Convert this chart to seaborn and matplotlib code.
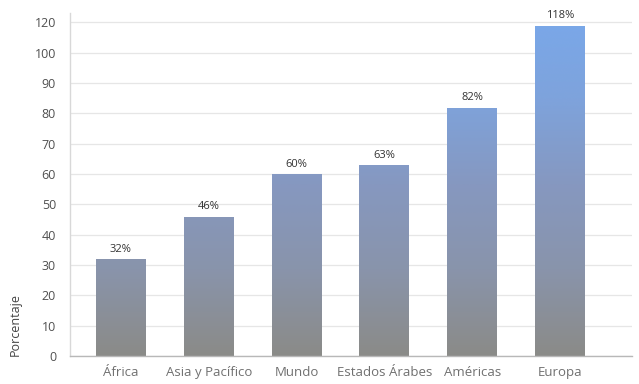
import numpy as np
import pandas as pd
import matplotlib
matplotlib.use("Agg")
import matplotlib.pyplot as plt
from matplotlib.colors import LinearSegmentedColormap
import seaborn as sns

# Data
regions = ["África", "Asia y Pacífico", "Mundo", "Estados Árabes", "Américas", "Europa"]
percent = [32, 46, 60, 63, 82, 118]
y_ticks = [0, 10, 20, 30, 40, 50, 60, 70, 80, 90, 100, 120]

df = pd.DataFrame({"region": regions, "pct": percent})

sns.set_theme(style="white")
plt.rcParams["font.family"] = ["Open Sans", "DejaVu Sans"]


# Axis above 100 is compressed by half
def fwd(v):
    v = np.asarray(v, dtype=float)
    return np.where(v <= 100, v, 100 + (v - 100) / 2.0)


def inv(v):
    v = np.asarray(v, dtype=float)
    return np.where(v <= 100, v, 100 + (v - 100) * 2.0)


fig = plt.figure(figsize=(6.39, 3.84), dpi=100)
ax = fig.add_axes([0.1095, 0.073, 0.88, 0.893])
ax.set_yscale("function", functions=(fwd, inv))

sns.barplot(data=df, x="region", y="pct", width=0.57, color="#8a96b0",
            ax=ax, zorder=2)

# Vertical gray-to-blue gradient shared by all bars
cmap = LinearSegmentedColormap.from_list(
    "graublue", ["#8b8b88", "#8994ab", "#8698c0", "#7ea3dc", "#79a8ea"])
grad = np.linspace(0, 1, 256).reshape(-1, 1)
for patch in ax.patches:
    x0 = patch.get_x()
    x1 = x0 + patch.get_width()
    patch.set_facecolor("none")
    patch.set_edgecolor("none")
    img = ax.imshow(grad, cmap=cmap, origin="lower", aspect="auto",
                    extent=(x0, x1, 0, 1), transform=ax.get_xaxis_transform(),
                    zorder=2, interpolation="bicubic")
    img.set_clip_path(patch)

ax.set_xlim(-0.58, 5.82)
ax.set_ylim(0, 126)
ax.set_yticks(y_ticks)
ax.set_yticklabels([str(t) for t in y_ticks])

# Value labels
for i, v in enumerate(percent):
    ax.annotate(f"{v}%", (i, v), xytext=(0, 3), textcoords="offset points",
                ha="center", va="bottom", fontsize=8, color="#333333")

ax.grid(axis="y", color="#e6e6e6", linewidth=0.9, zorder=0)
ax.set_axisbelow(True)
for s in ["top", "right"]:
    ax.spines[s].set_visible(False)
ax.spines["left"].set_color("#d8d8d8")
ax.spines["bottom"].set_color("#b8b8b8")
ax.spines["left"].set_linewidth(1.0)
ax.spines["bottom"].set_linewidth(1.0)

ax.tick_params(axis="both", length=0)
ax.tick_params(axis="y", pad=10, labelcolor="#505050", labelsize=9)
ax.tick_params(axis="x", pad=7, labelcolor="#707070", labelsize=9.5)
ax.set_xlabel("")
ax.set_ylabel("Porcentaje", fontsize=9, color="#444444", loc="bottom",
              labelpad=9)

fig.savefig("out.png", dpi=100)
